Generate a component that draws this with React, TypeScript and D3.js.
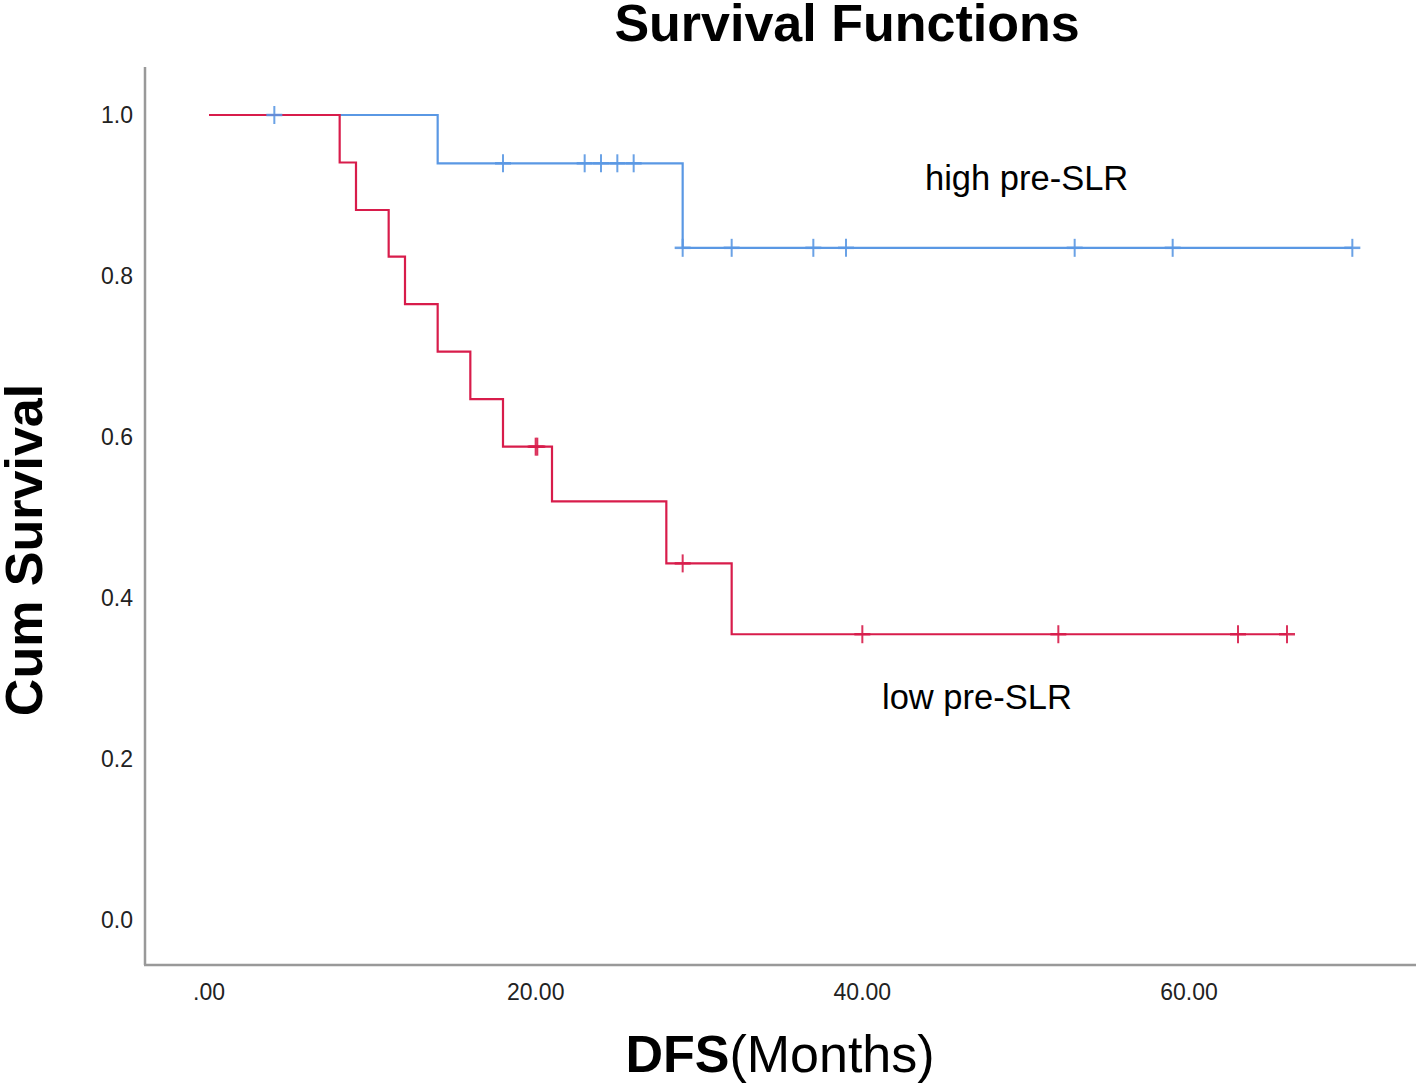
import React from "react";
import * as d3 from "d3";

// ---- data ----
const xTicks = [0, 20, 40, 60];
const xTickLabels = [".00", "20.00", "40.00", "60.00"];
const yTicks = [0, 0.2, 0.4, 0.6, 0.8, 1.0];
const yTickLabels = ["0.0", "0.2", "0.4", "0.6", "0.8", "1.0"];

// high pre-SLR: step points [time, survival]
const highSteps: [number, number][] = [
  [0, 1.0],
  [14, 0.94],
  [29, 0.835],
];
const highEnd = 70;
const highCensor: [number, number][] = [
  [4, 1.0],
  [18, 0.94], [23, 0.94], [24, 0.94], [25, 0.94], [26, 0.94],
  [29, 0.835], [32, 0.835], [37, 0.835], [39, 0.835], [53, 0.835], [59, 0.835], [70, 0.835],
];

// low pre-SLR
const lowSteps: [number, number][] = [
  [0, 1.0],
  [8, 0.941],
  [9, 0.882],
  [11, 0.824],
  [12, 0.765],
  [14, 0.706],
  [16, 0.647],
  [18, 0.588],
  [21, 0.52],
  [28, 0.443],
  [32, 0.355],
];
const lowEnd = 66;
const lowCensor: [number, number][] = [
  [20, 0.588], [20.1, 0.588],
  [29, 0.443],
  [40, 0.355], [52, 0.355], [63, 0.355], [66, 0.355],
];

const BLUE = "#5a98e4";
const RED = "#d81c4b";

export default function App() {
  const W = 1418, H = 1086;
  const x = d3.scaleLinear().domain([0, 60]).range([209, 1189]);
  const y = d3.scaleLinear().domain([0, 1]).range([920, 115]);

  const stepPath = (steps: [number, number][], end: number) => {
    const pts: [number, number][] = [...steps, [end, steps[steps.length - 1][1]]];
    const line = d3.line<[number, number]>()
      .x((d) => x(d[0]))
      .y((d) => y(d[1]))
      .curve(d3.curveStepAfter);
    return line(pts) || "";
  };

  const censorMarks = (pts: [number, number][], color: string, key: string) =>
    pts.map((p, i) => (
      <g key={key + i} stroke={color} strokeWidth={2} opacity={0.9}>
        <line x1={x(p[0])} x2={x(p[0])} y1={y(p[1]) - 9} y2={y(p[1]) + 9} />
        <line x1={x(p[0]) - 8} x2={x(p[0]) + 8} y1={y(p[1])} y2={y(p[1])} strokeWidth={2.5} />
      </g>
    ));

  const font = "'Liberation Sans', Arial, Helvetica, sans-serif";

  return (
    <svg width={W} height={H} style={{ position: "absolute", left: 0, top: 0, background: "#fff" }} fontFamily={font}>
      <rect x={0} y={0} width={W} height={H} fill="#fff" />
      {/* title */}
      <text x={847} y={41} textAnchor="middle" fontSize={52} fontWeight="bold" fill="#000">Survival Functions</text>

      {/* axes */}
      <line x1={145} x2={145} y1={67} y2={965} stroke="#999" strokeWidth={2.5} />
      <line x1={144} x2={1416} y1={965} y2={965} stroke="#999" strokeWidth={2.5} />

      {yTicks.map((t, i) => (
        <text key={"yt" + i} x={133} y={y(t)} dy="0.36em" textAnchor="end" fontSize={23} fill="#222">{yTickLabels[i]}</text>
      ))}
      {xTicks.map((t, i) => (
        <text key={"xt" + i} x={x(t)} y={1000} textAnchor="middle" fontSize={23} fill="#222">{xTickLabels[i]}</text>
      ))}

      {/* axis titles */}
      <text transform="translate(42,550) rotate(-90)" textAnchor="middle" fontSize={52} fontWeight="bold" fill="#000">Cum Survival</text>
      <text x={780} y={1072} textAnchor="middle" fontSize={52} fill="#000">
        <tspan fontWeight="bold">DFS</tspan><tspan>(Months)</tspan>
      </text>

      {/* curves */}
      <path d={stepPath(highSteps, highEnd)} fill="none" stroke={BLUE} strokeWidth={2.2} />
      <path d={stepPath(lowSteps, lowEnd)} fill="none" stroke={RED} strokeWidth={2.2} />
      {censorMarks(highCensor, BLUE, "h")}
      {censorMarks(lowCensor, RED, "l")}

      {/* labels */}
      <text x={925} y={190} fontSize={34.5} fill="#000">high pre-SLR</text>
      <text x={882} y={709} fontSize={34.5} fill="#000">low pre-SLR</text>
    </svg>
  );
}
